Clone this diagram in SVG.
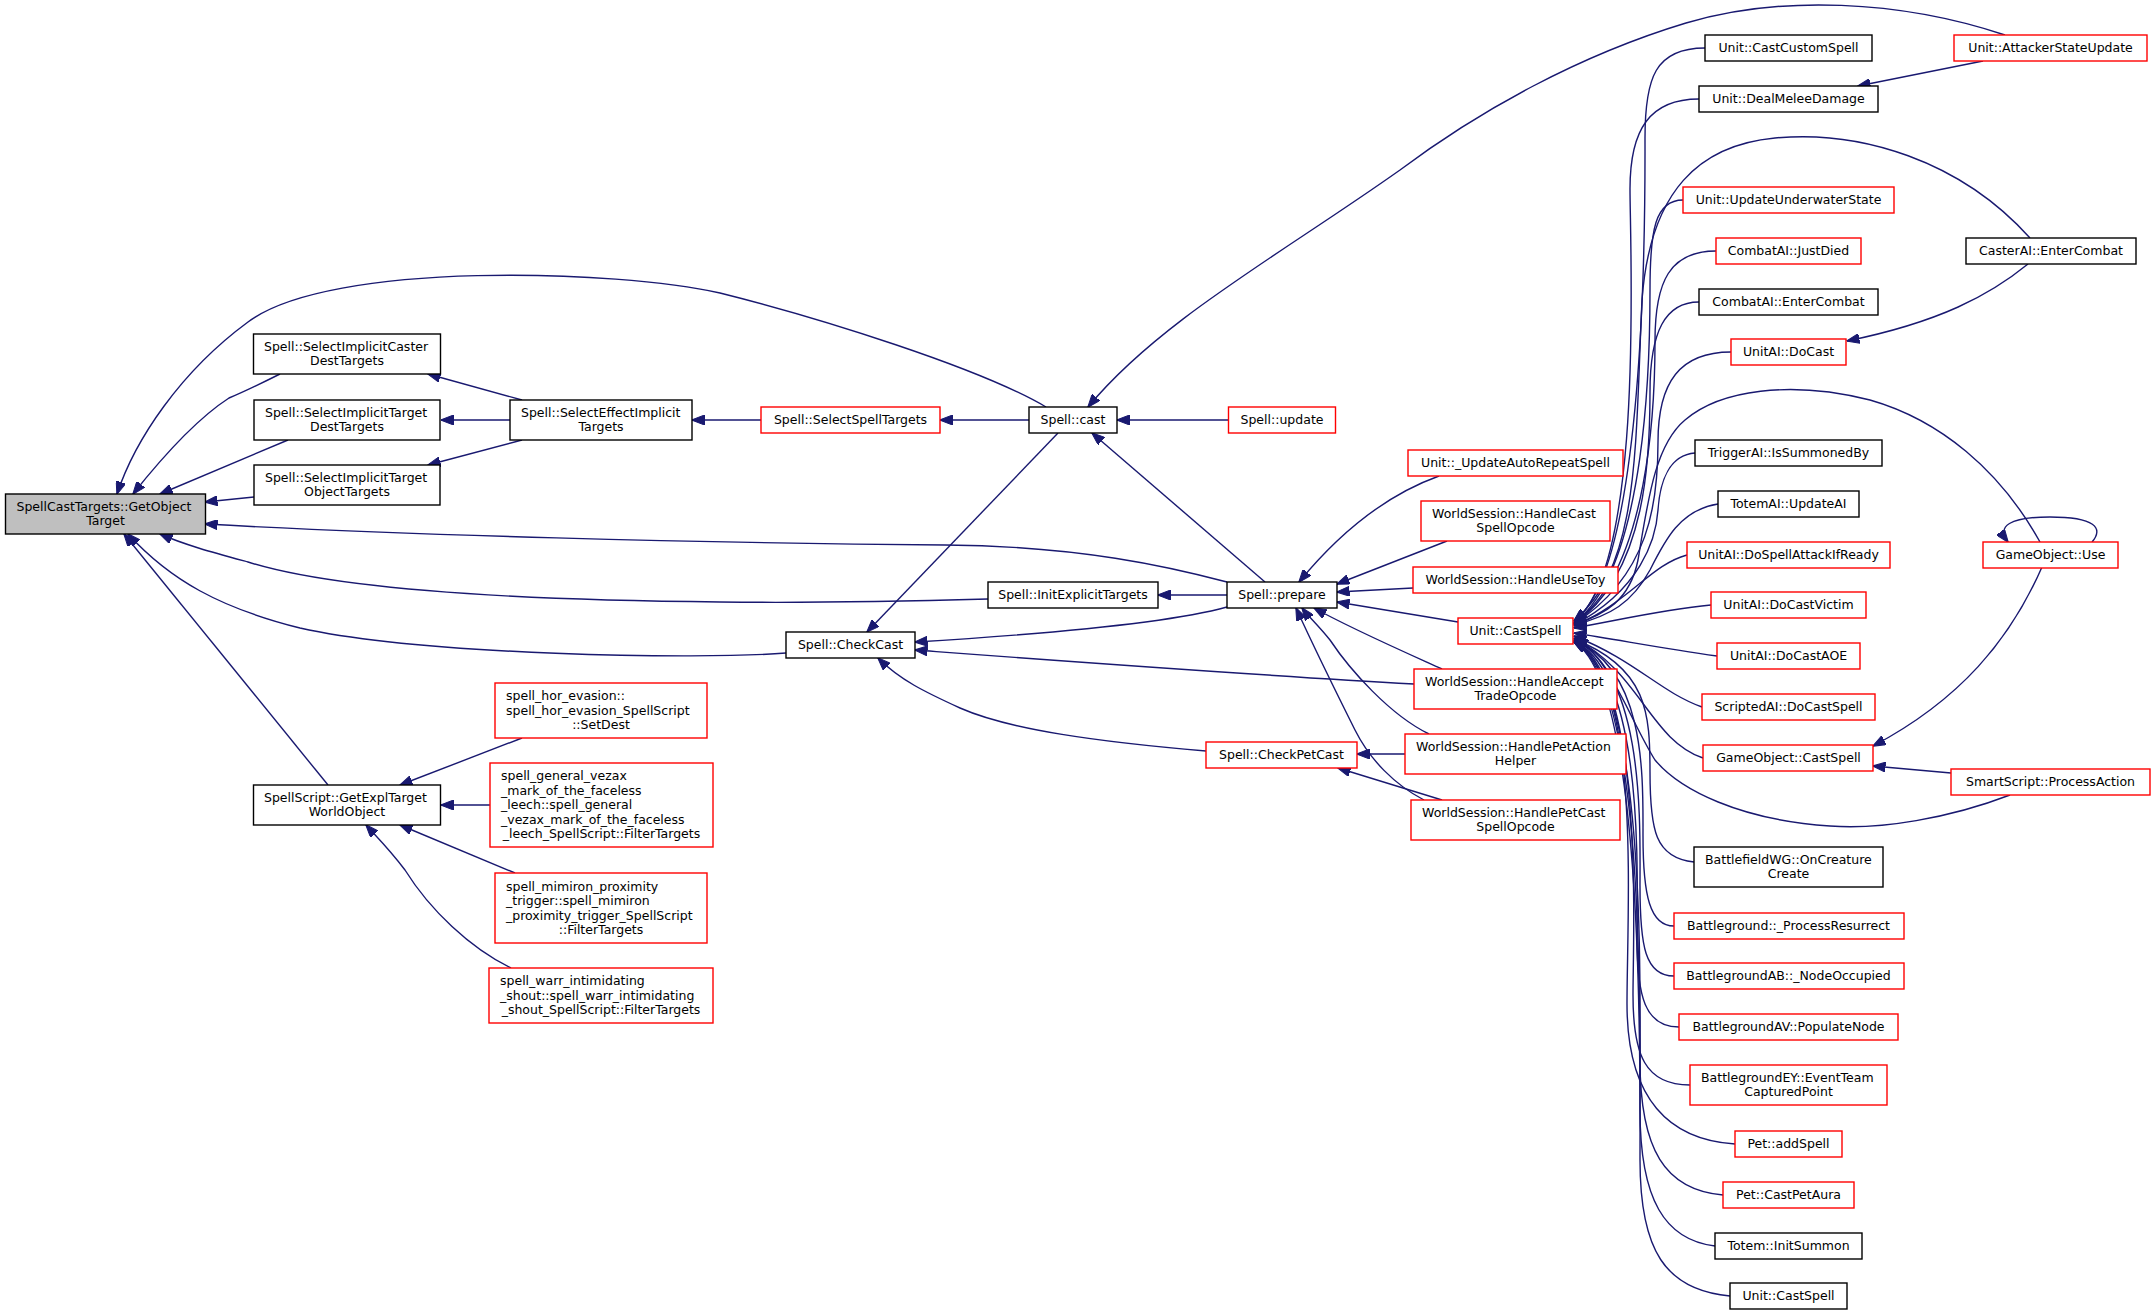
<svg xmlns="http://www.w3.org/2000/svg" width="2155" height="1315" viewBox="0 0 2155 1315">
<defs>
<marker id="a" viewBox="0 0 13 10" markerWidth="13" markerHeight="10" refX="12.5" refY="5" orient="auto" markerUnits="userSpaceOnUse"><path d="M0,0 L13,5 L0,10 z" fill="#191970" stroke="#191970" stroke-width="1"/></marker>
<style>
rect{fill:#fff;stroke:#000;stroke-width:1.4}
.r rect{stroke:#ff0000}
.g rect{fill:#bfbfbf}
text{font-family:"DejaVu Sans","Liberation Sans",sans-serif;font-size:12.5px;fill:#000;text-anchor:middle}
text.l{text-anchor:start}
#edges path{fill:none;stroke:#191970;stroke-width:1.4;marker-end:url(#a)}
</style>
</defs>
<rect x="0" y="0" width="2155" height="1315" style="fill:#fff;stroke:none"/>
<g id="edges">
<path d="M1046,407 C980,368 820,318 720,293 C620,270 330,260 248,322 C180,372 135,440 117,494"/>
<path d="M280,374 C260,384 243,392 229,398 C195,420 160,460 133,494"/>
<path d="M288,440 L160,494"/>
<path d="M254,497 L205,502"/>
<path d="M1227,582 C1170,567 1080,546 945,545 C700,543 400,535 205,524"/>
<path d="M988,599 C880,602 800,603 720,602 C500,600 330,588 248,562 C215,553 185,545 160,534"/>
<path d="M786,653 C700,660 420,655 300,628 C220,608 170,580 128,534"/>
<path d="M328,785 L124,534"/>
<path d="M522,400 L428,374"/>
<path d="M510,420 L441,420"/>
<path d="M522,440 L428,465"/>
<path d="M761,420 L692,420"/>
<path d="M1029,420 L940,420"/>
<path d="M1228,420 L1117,420"/>
<path d="M2005,35 C1900,0 1780,-5 1686,23 C1580,55 1480,110 1400,170 C1280,255 1160,320 1088,407"/>
<path d="M1265,582 L1092,433"/>
<path d="M1058,433 L867,632"/>
<path d="M1227,607 C1180,620 1080,632 915,642"/>
<path d="M1414,684 C1250,675 1050,660 915,650"/>
<path d="M1206,751 C1100,742 1010,730 960,708 C925,692 900,680 878,658"/>
<path d="M1227,595 L1158,595"/>
<path d="M1439,476 C1400,490 1350,520 1299,582"/>
<path d="M1447,541 L1337,584"/>
<path d="M1413,588 L1337,592"/>
<path d="M1458,622 L1337,602"/>
<path d="M1442,669 C1400,650 1350,628 1314,608"/>
<path d="M1429,734 C1390,715 1350,670 1330,640 C1318,625 1308,616 1302,608"/>
<path d="M1424,800 C1395,785 1370,760 1355,730 C1335,690 1313,645 1296,608"/>
<path d="M1405,754 L1357,754"/>
<path d="M1442,800 L1338,768"/>
<path d="M522,738 L400,785"/>
<path d="M490,805 L441,805"/>
<path d="M515,873 L400,825"/>
<path d="M511,968 C470,948 430,910 405,870 C390,850 375,835 366,825"/>
<path d="M1705,48 C1655,48 1645,78 1645,138 S1648,568 1574,621"/>
<path d="M1699,99 C1650,99 1630,129 1630,189 S1645,566 1574,622"/>
<path d="M1683,200 C1655,200 1650,230 1650,290 S1648,568 1574,623"/>
<path d="M1716,251 C1670,251 1655,281 1655,341 S1650,570 1574,623"/>
<path d="M1699,302 C1665,302 1650,332 1650,392 S1648,572 1574,624"/>
<path d="M1731,352 C1680,352 1658,382 1658,442 S1650,575 1574,624"/>
<path d="M1695,453 C1670,455 1660,480 1658,510 S1640,590 1574,625"/>
<path d="M1718,504 C1680,510 1665,540 1650,570 C1632,603 1610,616 1574,625"/>
<path d="M1687,555 C1650,565 1630,602 1574,626"/>
<path d="M1711,605 C1660,610 1620,620 1574,628"/>
<path d="M1717,656 C1660,648 1620,640 1574,633"/>
<path d="M1702,707 C1660,692 1635,660 1574,636"/>
<path d="M1703,758 C1650,740 1640,672 1574,638"/>
<path d="M1694,862 C1655,858 1650,830 1650,772 S1648,668 1574,639"/>
<path d="M1674,926 C1650,926 1643,896 1643,836 S1646,670 1574,640"/>
<path d="M1674,976 C1645,976 1640,946 1640,886 S1645,672 1574,640"/>
<path d="M1679,1027 C1645,1027 1637,997 1637,937 S1645,674 1574,641"/>
<path d="M1690,1085 C1645,1085 1633,1055 1633,995 S1645,676 1574,641"/>
<path d="M1735,1144 C1670,1140 1627,1100 1627,1004 S1642,678 1574,642"/>
<path d="M1723,1195 C1665,1190 1640,1150 1640,1060 S1645,680 1574,642"/>
<path d="M1715,1246 C1665,1240 1640,1200 1640,1110 S1645,682 1574,642"/>
<path d="M1730,1296 C1665,1290 1640,1250 1640,1160 S1645,684 1574,642"/>
<path d="M2030,238 C1960,160 1860,130 1775,138 C1700,145 1650,190 1642,300 C1635,450 1640,565 1574,621"/>
<path d="M2040,542 C2000,470 1940,420 1870,400 C1790,380 1720,390 1685,420 C1655,445 1648,500 1638,560 C1630,600 1605,615 1574,624"/>
<path d="M2010,795 C1950,818 1880,830 1830,826 C1740,820 1680,790 1655,760 C1630,720 1612,662 1576,637"/>
<path d="M1983,61 L1858,86"/>
<path d="M2028,264 C1990,295 1940,322 1847,341"/>
<path d="M2042,567 C2010,640 1960,700 1873,746"/>
<path d="M1951,773 L1873,766"/>
<path d="M2092,542 C2104,528 2095,517 2050,517 C2010,517 1996,526 2008,542"/>
</g>
<g id="n0" class="g"><rect x="5.5" y="494" width="200" height="40"/><text class="l" x="16.5" y="511.4">SpellCastTargets::GetObject</text><text x="105.5" y="525.4">Target</text></g>
<g id="n1"><rect x="253.5" y="334" width="187" height="40"/><text class="l" x="264" y="351.4">Spell::SelectImplicitCaster</text><text x="347" y="365.4">DestTargets</text></g>
<g id="n2"><rect x="254" y="400" width="186" height="40"/><text class="l" x="265" y="417.4">Spell::SelectImplicitTarget</text><text x="347" y="431.4">DestTargets</text></g>
<g id="n3"><rect x="254" y="465" width="186" height="40"/><text class="l" x="265" y="482.4">Spell::SelectImplicitTarget</text><text x="347" y="496.4">ObjectTargets</text></g>
<g id="n4"><rect x="253.5" y="785" width="187" height="40"/><text class="l" x="264" y="802.4">SpellScript::GetExplTarget</text><text x="347" y="816.4">WorldObject</text></g>
<g id="n5"><rect x="510" y="400" width="182" height="40"/><text class="l" x="521" y="417.4">Spell::SelectEffectImplicit</text><text x="601" y="431.4">Targets</text></g>
<g id="n6" class="r"><rect x="495" y="683" width="212" height="55"/><text class="l" x="506" y="700.4">spell_hor_evasion::</text><text class="l" x="506" y="714.9">spell_hor_evasion_SpellScript</text><text x="601" y="729.4">::SetDest</text></g>
<g id="n7" class="r"><rect x="490" y="763" width="223" height="84"/><text class="l" x="501" y="780.4">spell_general_vezax</text><text class="l" x="501" y="794.9">_mark_of_the_faceless</text><text class="l" x="501" y="809.4">_leech::spell_general</text><text class="l" x="501" y="823.9">_vezax_mark_of_the_faceless</text><text x="601.5" y="838.4">_leech_SpellScript::FilterTargets</text></g>
<g id="n8" class="r"><rect x="495" y="873" width="212" height="70"/><text class="l" x="506" y="890.7">spell_mimiron_proximity</text><text class="l" x="506" y="905.2">_trigger::spell_mimiron</text><text class="l" x="506" y="919.7">_proximity_trigger_SpellScript</text><text x="601" y="934.2">::FilterTargets</text></g>
<g id="n9" class="r"><rect x="489" y="968" width="224" height="55"/><text class="l" x="500" y="985.4">spell_warr_intimidating</text><text class="l" x="500" y="999.9">_shout::spell_warr_intimidating</text><text x="601" y="1014.4">_shout_SpellScript::FilterTargets</text></g>
<g id="n10" class="r"><rect x="761" y="407" width="179" height="26"/><text x="850.5" y="424.4">Spell::SelectSpellTargets</text></g>
<g id="n11"><rect x="786" y="632" width="129" height="26"/><text x="850.5" y="649.4">Spell::CheckCast</text></g>
<g id="n12"><rect x="1029" y="407" width="88" height="26"/><text x="1073" y="424.4">Spell::cast</text></g>
<g id="n13"><rect x="988" y="582" width="170" height="26"/><text x="1073" y="599.4">Spell::InitExplicitTargets</text></g>
<g id="n14" class="r"><rect x="1228.5" y="407" width="107" height="26"/><text x="1282" y="424.4">Spell::update</text></g>
<g id="n15"><rect x="1227" y="582" width="110" height="26"/><text x="1282" y="599.4">Spell::prepare</text></g>
<g id="n16" class="r"><rect x="1206" y="742" width="151" height="26"/><text x="1281.5" y="759.4">Spell::CheckPetCast</text></g>
<g id="n17" class="r"><rect x="1408" y="450" width="215" height="26"/><text x="1515.5" y="467.4">Unit::_UpdateAutoRepeatSpell</text></g>
<g id="n18" class="r"><rect x="1421" y="501" width="189" height="40"/><text class="l" x="1432" y="518.4">WorldSession::HandleCast</text><text x="1515.5" y="532.4">SpellOpcode</text></g>
<g id="n19" class="r"><rect x="1413" y="567" width="205" height="26"/><text x="1515.5" y="584.4">WorldSession::HandleUseToy</text></g>
<g id="n20" class="r"><rect x="1458" y="618" width="115" height="26"/><text x="1515.5" y="635.4">Unit::CastSpell</text></g>
<g id="n21" class="r"><rect x="1414" y="669" width="203" height="40"/><text class="l" x="1425" y="686.4">WorldSession::HandleAccept</text><text x="1515.5" y="700.4">TradeOpcode</text></g>
<g id="n22" class="r"><rect x="1405" y="734" width="221" height="40"/><text class="l" x="1416" y="751.4">WorldSession::HandlePetAction</text><text x="1515.5" y="765.4">Helper</text></g>
<g id="n23" class="r"><rect x="1411" y="800" width="209" height="40"/><text class="l" x="1422" y="817.4">WorldSession::HandlePetCast</text><text x="1515.5" y="831.4">SpellOpcode</text></g>
<g id="n24"><rect x="1705" y="35" width="167" height="26"/><text x="1788.5" y="52.4">Unit::CastCustomSpell</text></g>
<g id="n25"><rect x="1699" y="86" width="179" height="26"/><text x="1788.5" y="103.4">Unit::DealMeleeDamage</text></g>
<g id="n26" class="r"><rect x="1683" y="187" width="211" height="26"/><text x="1788.5" y="204.4">Unit::UpdateUnderwaterState</text></g>
<g id="n27" class="r"><rect x="1716" y="238" width="145" height="26"/><text x="1788.5" y="255.4">CombatAI::JustDied</text></g>
<g id="n28"><rect x="1699" y="289" width="179" height="26"/><text x="1788.5" y="306.4">CombatAI::EnterCombat</text></g>
<g id="n29" class="r"><rect x="1731" y="339" width="115" height="26"/><text x="1788.5" y="356.4">UnitAI::DoCast</text></g>
<g id="n30"><rect x="1695" y="440" width="187" height="26"/><text x="1788.5" y="457.4">TriggerAI::IsSummonedBy</text></g>
<g id="n31"><rect x="1718" y="491" width="141" height="26"/><text x="1788.5" y="508.4">TotemAI::UpdateAI</text></g>
<g id="n32" class="r"><rect x="1687" y="542" width="203" height="26"/><text x="1788.5" y="559.4">UnitAI::DoSpellAttackIfReady</text></g>
<g id="n33" class="r"><rect x="1711" y="592" width="155" height="26"/><text x="1788.5" y="609.4">UnitAI::DoCastVictim</text></g>
<g id="n34" class="r"><rect x="1717" y="643" width="143" height="26"/><text x="1788.5" y="660.4">UnitAI::DoCastAOE</text></g>
<g id="n35" class="r"><rect x="1702" y="694" width="173" height="26"/><text x="1788.5" y="711.4">ScriptedAI::DoCastSpell</text></g>
<g id="n36" class="r"><rect x="1703" y="745" width="170" height="26"/><text x="1788.5" y="762.4">GameObject::CastSpell</text></g>
<g id="n37"><rect x="1694" y="847" width="189" height="40"/><text class="l" x="1705" y="864.4">BattlefieldWG::OnCreature</text><text x="1788.5" y="878.4">Create</text></g>
<g id="n38" class="r"><rect x="1674" y="913" width="230" height="26"/><text x="1788.5" y="930.4">Battleground::_ProcessResurrect</text></g>
<g id="n39" class="r"><rect x="1674" y="963" width="230" height="26"/><text x="1788.5" y="980.4">BattlegroundAB::_NodeOccupied</text></g>
<g id="n40" class="r"><rect x="1679" y="1014" width="219" height="26"/><text x="1788.5" y="1031.4">BattlegroundAV::PopulateNode</text></g>
<g id="n41" class="r"><rect x="1690" y="1065" width="197" height="40"/><text class="l" x="1701" y="1082.4">BattlegroundEY::EventTeam</text><text x="1788.5" y="1096.4">CapturedPoint</text></g>
<g id="n42" class="r"><rect x="1735" y="1131" width="107" height="26"/><text x="1788.5" y="1148.4">Pet::addSpell</text></g>
<g id="n43" class="r"><rect x="1723" y="1182" width="131" height="26"/><text x="1788.5" y="1199.4">Pet::CastPetAura</text></g>
<g id="n44"><rect x="1715" y="1233" width="147" height="26"/><text x="1788.5" y="1250.4">Totem::InitSummon</text></g>
<g id="n45"><rect x="1730" y="1283" width="117" height="26"/><text x="1788.5" y="1300.4">Unit::CastSpell</text></g>
<g id="n46" class="r"><rect x="1954" y="35" width="193" height="26"/><text x="2050.5" y="52.4">Unit::AttackerStateUpdate</text></g>
<g id="n47"><rect x="1966" y="238" width="170" height="26"/><text x="2051" y="255.4">CasterAI::EnterCombat</text></g>
<g id="n48" class="r"><rect x="1983" y="542" width="135" height="26"/><text x="2050.5" y="559.4">GameObject::Use</text></g>
<g id="n49" class="r"><rect x="1951" y="769" width="199" height="26"/><text x="2050.5" y="786.4">SmartScript::ProcessAction</text></g>
</svg>
